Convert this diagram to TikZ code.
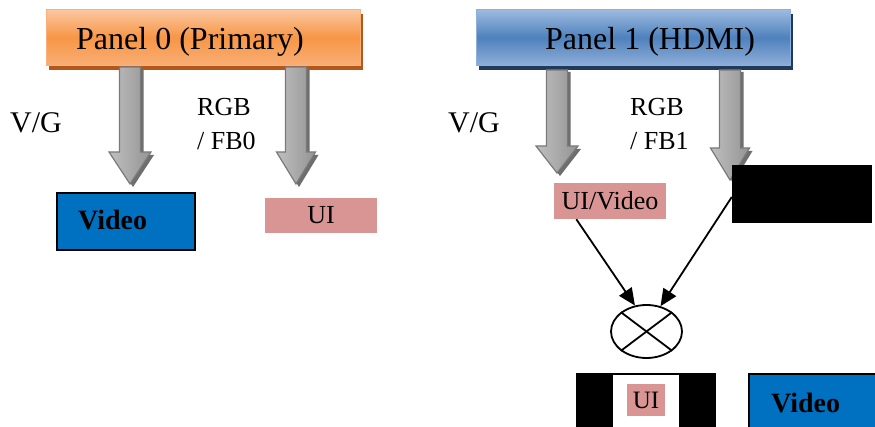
\documentclass[tikz,border=0pt]{standalone}
\usepackage{fontspec}
\setmainfont{Liberation Serif}
\usetikzlibrary{shapes.geometric,arrows.meta,calc}

\definecolor{orangeTop}{HTML}{FBC7A0}
\definecolor{orangeMid}{HTML}{F79646}
\definecolor{orangeBot}{HTML}{F9AE75}
\definecolor{orangeEdge}{HTML}{FAB07A}
\definecolor{orangeShadow}{HTML}{B3581A}
\definecolor{blueTop}{HTML}{9DBBE0}
\definecolor{blueMid}{HTML}{4F81BD}
\definecolor{blueBot}{HTML}{8FAED8}
\definecolor{blueEdge}{HTML}{8DB0DC}
\definecolor{blueShadow}{HTML}{203A5E}
\definecolor{vidblue}{HTML}{0070C0}
\definecolor{uipink}{HTML}{D99594}
\definecolor{arrowEdge}{HTML}{7A7A7A}
\definecolor{arrowShadow}{HTML}{6E6E6E}

% block arrow pointing down: centre x, top y, head base y, tip y, half head width
\newcommand{\grayarrow}[5]{%
  \fill[arrowShadow] (#1+13.5,#2+2) -- (#1+13.5,#3+3) -- (#1+#5+3,#3+3)
     -- (#1+3,#4+3) -- (#1-#5+3,#3+3) -- (#1-7.5,#3+3) -- (#1-7.5,#2+2) -- cycle;
  \shade[draw=arrowEdge, line width=1.2pt, left color=black!25, middle color=black!10,
         right color=black!42]
     (#1-10.5,#2) -- (#1+10.5,#2) -- (#1+10.5,#3) -- (#1+#5,#3) -- (#1,#4)
     -- (#1-#5,#3) -- (#1-10.5,#3) -- cycle;
}

\begin{document}
\begin{tikzpicture}[x=1pt,y=-1pt,
  panelorange/.style={rectangle, minimum width=314pt, minimum height=56pt, inner sep=0pt,
     draw=orangeEdge, line width=1pt, top color=orangeTop, bottom color=orangeBot, middle color=orangeMid},
  panelblue/.style={rectangle, minimum width=314pt, minimum height=56pt, inner sep=0pt,
     draw=blueEdge, line width=1pt, top color=blueTop, bottom color=blueBot, middle color=blueMid},
  paneltext/.style={anchor=base west, inner sep=0pt, font=\fontsize{32}{36}\selectfont},
  vgtext/.style={anchor=base west, inner sep=0pt, font=\fontsize{30}{34}\selectfont},
  rgbtext/.style={anchor=base west, inner sep=0pt, font=\fontsize{26}{30}\selectfont},
  vidbox/.style={rectangle, fill=vidblue, draw=black, line width=2pt, inner sep=0pt},
  vidtext/.style={anchor=base west, inner sep=0pt, font=\fontsize{28}{32}\selectfont\bfseries},
  uibox/.style={rectangle, fill=uipink, inner sep=0pt, font=\fontsize{26}{30}\selectfont},
  flow/.style={line width=1.8pt, -{Triangle[length=17pt,width=15pt]}},
]
\clip (0,0) rectangle (875,427);
\fill[white] (0,0) rectangle (875,427);

% ---- Panel 0 ----
\fill[orangeShadow] (49,14) rectangle (363,70);
\node[panelorange] (p0) at (203,37.5) {};
\node[paneltext] (p0t) at (76,50) {Panel 0 (Primary)};

\grayarrow{130}{67}{152}{184}{21}
\grayarrow{296}{67}{152}{184}{19.5}

\node[vgtext] (vg0) at (10,133) {V/G};
\node[rgbtext] (rgb0) at (197,116) {RGB};
\node[rgbtext] (fb0) at (197,150) {/ FB0};

\node[vidbox, minimum width=138pt, minimum height=57pt] (vid0) at (126,221.5) {};
\node[vidtext] (vid0t) at (78,230) {Video};
\node[uibox, minimum width=112pt, minimum height=35pt] (ui0) at (321,215.5) {UI};

% ---- Panel 1 ----
\fill[blueShadow] (479,14) rectangle (793,70);
\node[panelblue] (p1) at (633,37.5) {};
\node[paneltext] (p1t) at (545,50) {Panel 1 (HDMI)};

\grayarrow{557}{70}{146}{173}{21}
\grayarrow{730}{70}{148}{180}{19.5}

\node[vgtext] (vg1) at (448,133) {V/G};
\node[rgbtext] (rgb1) at (630,116) {RGB};
\node[rgbtext] (fb1) at (630,150) {/ FB1};

\node[uibox, minimum width=112pt, minimum height=36pt] (uiv) at (610,201) {UI/Video};
\node[rectangle, fill=black, inner sep=0pt, minimum width=140pt, minimum height=58pt] (blk) at (802,194) {};

% ---- blending ----
\node[ellipse, draw=black, line width=1.8pt, minimum width=71pt, minimum height=53pt, inner sep=0pt]
  (mix) at (646.5,331.5) {};
\draw[line width=1.8pt] (mix.143) -- (mix.-37);
\draw[line width=1.8pt] (mix.37) -- (mix.-143);

\draw[flow] ($(uiv.south west)!0.2!(uiv.south east)$) -- (mix.114);
\draw[flow] ([yshift=-3pt]blk.west) -- (mix.61);

% ---- result ----
\node[rectangle, fill=black, inner sep=0pt, minimum width=140pt, minimum height=60pt, anchor=north west]
  (res) at (576,373) {};
\node[rectangle, fill=white, inner sep=0pt, minimum width=66pt, minimum height=60pt, anchor=north west]
  (resw) at (613,375) {};
\node[uibox, minimum width=38pt, minimum height=32pt, font=\fontsize{25}{29}\selectfont] (ui1) at (646,400) {UI};

\node[vidbox, minimum width=140pt, minimum height=62pt, anchor=north west] (vid1) at (748,373) {};
\node[vidtext] (vid1t) at (771,412) {Video};
\end{tikzpicture}
\end{document}
